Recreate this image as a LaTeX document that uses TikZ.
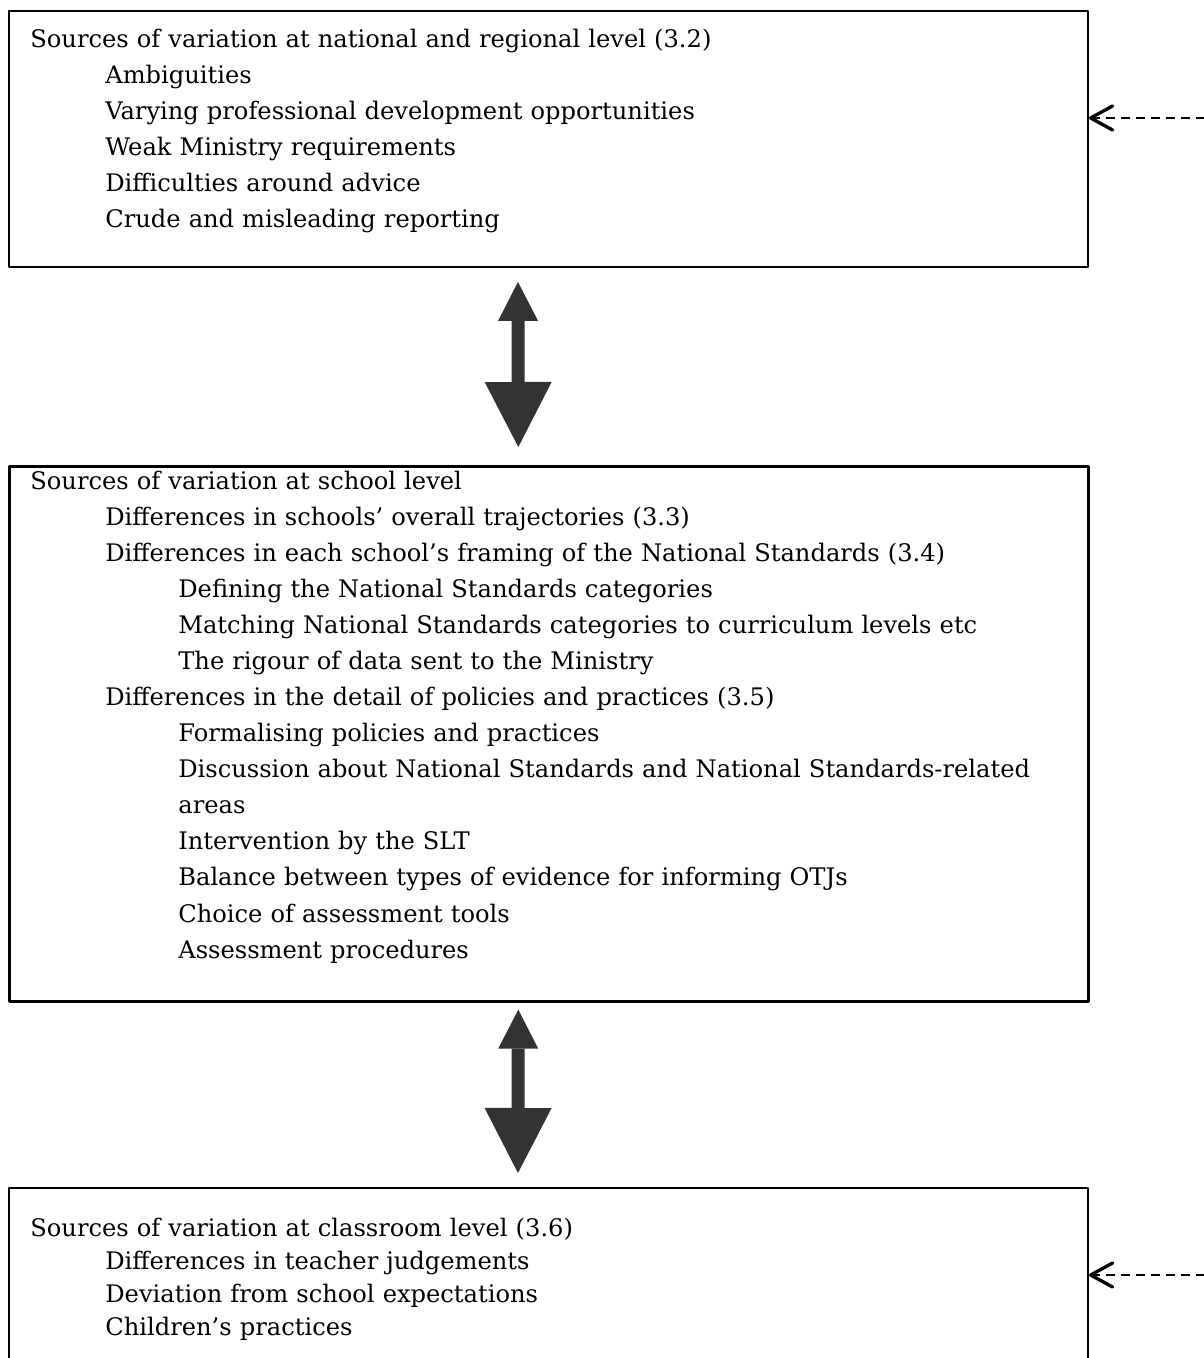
\documentclass[tikz,border=0pt]{standalone}
\usepackage{fontspec}
\setmainfont{DejaVu Serif}
\usetikzlibrary{arrows.meta,calc}
\definecolor{arrowgray}{HTML}{333333}
\newcommand{\ind}{\hspace*{1.5cm}}
\newcommand{\indd}{\hspace*{2.96cm}}
\begin{document}
\begin{tikzpicture}[line join=round, line cap=round,
		srcbox/.style={draw, rectangle, anchor=north west, line width=1.1pt, minimum width=21.58cm},
		srctext/.style={anchor=north west, inner sep=0pt, text width=20.7cm, align=left, font=\fontsize{13.75}{20.5}\selectfont},
		twoway/.style={draw=arrowgray, line cap=butt, line width=0.26cm, {Triangle[length=0.78cm,width=0.8cm,line width=0pt]}-{Triangle[length=1.3cm,width=1.34cm,line width=0pt]}},
		feedback/.style={line cap=butt, line width=1.1pt, dash pattern=on 0.18cm off 0.12cm, -{Straight Barb[round,length=0.44cm,width=0.48cm,line width=1.9pt]}}]
			\useasboundingbox (0,0) rectangle (24.08,-27.16);
			\node[srcbox, minimum height=5.12cm] (natl) at (0.16,-0.20) {};
			\node[srcbox, minimum height=10.70cm, line width=1.5pt] (school) at (0.16,-9.30) {};
			\node[srcbox, minimum height=3.72cm] (class) at (0.16,-23.74) {};
			\node[srctext] (natltext) at ([xshift=0.44cm,yshift=-0.38cm]natl.north west) {Sources of variation at national and regional level (3.2)\\
				\ind Ambiguities\\
				\ind Varying professional development opportunities\\
				\ind Weak Ministry requirements\\
				\ind Difficulties around advice\\
				\ind Crude and misleading reporting};
			\node[srctext] (schooltext) at ([xshift=0.44cm,yshift=-0.12cm]school.north west) {Sources of variation at school level\\
				\ind Differences in schools’ overall trajectories (3.3)\\
				\ind Differences in each school’s framing of the National Standards (3.4)\\
				\indd Defining the National Standards categories\\
				\indd Matching National Standards categories to curriculum levels etc\\
				\indd The rigour of data sent to the Ministry\\
				\ind Differences in the detail of policies and practices (3.5)\\
				\indd Formalising policies and practices\\
				\indd Discussion about National Standards and National Standards-related\\
				\indd areas\\
				\indd Intervention by the SLT\\
				\indd Balance between types of evidence for informing OTJs\\
				\indd Choice of assessment tools\\
				\indd Assessment procedures};
			\node[srctext, font=\fontsize{13.75}{18.8}\selectfont] (classtext) at ([xshift=0.44cm,yshift=-0.62cm]class.north west) {Sources of variation at classroom level (3.6)\\
				\ind Differences in teacher judgements\\
				\ind Deviation from school expectations\\
				\ind Children’s practices};
			\draw[twoway] ([xshift=-0.61cm,yshift=-0.28cm]natl.south) -- ([xshift=-0.61cm,yshift=0.36cm]school.north);
			\draw[twoway] ([xshift=-0.61cm,yshift=-0.14cm]school.south) -- ([xshift=-0.61cm,yshift=0.28cm]class.north);
			\coordinate (fbnatl) at (24.1,-2.36);
			\coordinate (fbclass) at (24.1,-25.5);
			\draw[feedback] (fbnatl) -- (fbnatl -| natl.east);
			\draw[feedback] (fbclass) -- (fbclass -| class.east);
		\end{tikzpicture}
\end{document}
